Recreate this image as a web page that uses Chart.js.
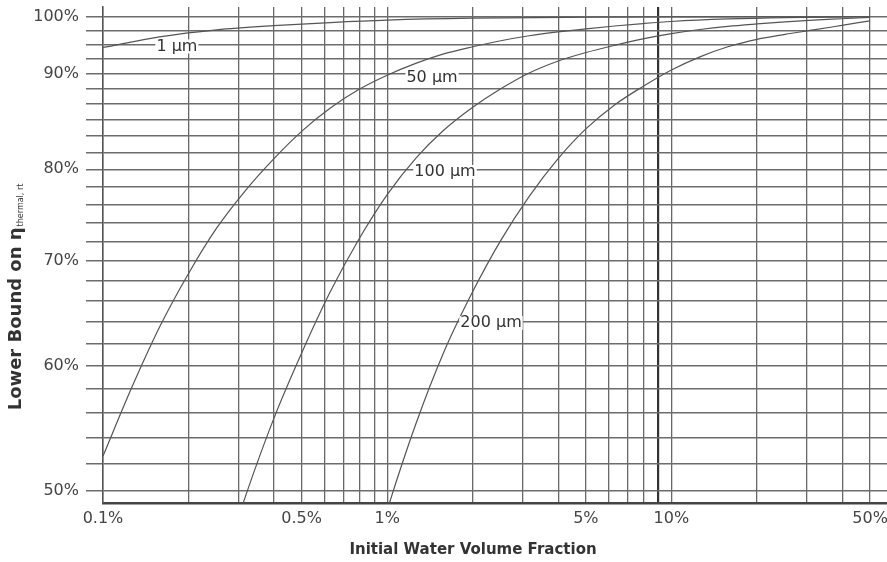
<!DOCTYPE html>
<html>
<head>
<meta charset="utf-8">
<script src="https://cdn.jsdelivr.net/npm/chart.js@4.4.1/dist/chart.umd.min.js"></script>
<style>
  html, body { margin: 0; padding: 0; background: #fff; overflow: hidden; }
  #wrap { width: 887px; height: 562px; position: relative; }
</style>
</head>
<body>
<div id="wrap"><canvas id="chart"></canvas></div>
<script>
// Water volume fraction (x, as a fraction) and lower bound on efficiency (y)
const fractions1 = [0.001, 0.00158, 0.00251, 0.00398, 0.00631, 0.01, 0.02, 0.0501, 0.1, 0.5];
const eta1 = [0.956, 0.971, 0.981, 0.987, 0.9915, 0.995, 0.9978, 0.9992, 0.9997, 1.0];

const fractions50 = [0.001, 0.00126, 0.00158, 0.002, 0.00251, 0.00316, 0.00398, 0.00501, 0.00631, 0.00794,
  0.01, 0.0126, 0.0158, 0.02, 0.0251, 0.0316, 0.0398, 0.0501, 0.0631, 0.0794, 0.1, 0.158, 0.251, 0.5];
const eta50 = [0.526, 0.581, 0.635, 0.687, 0.734, 0.775, 0.812, 0.846, 0.875, 0.899,
  0.918, 0.934, 0.947, 0.957, 0.9655, 0.9725, 0.978, 0.9825, 0.9865, 0.99, 0.993, 0.9967, 0.9988, 1.0];

const fractions100 = [0.003, 0.00316, 0.00398, 0.00501, 0.00631, 0.00794, 0.01, 0.0126, 0.0158, 0.02, 0.0251,
  0.0316, 0.0398, 0.0501, 0.0631, 0.0794, 0.1, 0.126, 0.158, 0.2, 0.251, 0.316, 0.398, 0.5];
const eta100 = [0.481, 0.495, 0.555, 0.612, 0.669, 0.722, 0.771, 0.813, 0.847, 0.876, 0.9,
  0.921, 0.937, 0.949, 0.959, 0.968, 0.9755, 0.9815, 0.986, 0.9895, 0.9925, 0.995, 0.997, 0.999];

const fractions200 = [0.0098, 0.01, 0.0126, 0.0158, 0.02, 0.0251, 0.0316, 0.0398, 0.0501, 0.0631,
  0.0794, 0.1, 0.126, 0.158, 0.2, 0.251, 0.316, 0.398, 0.5];
const eta200 = [0.48, 0.486, 0.551, 0.612, 0.669, 0.721, 0.769, 0.812, 0.849, 0.879,
  0.903, 0.925, 0.943, 0.957, 0.9675, 0.9745, 0.9808, 0.9874, 0.994];

// Curve labels, placed in data coordinates
const curveLabels = ["1 µm", "50 µm", "100 µm", "200 µm"];
const labelFractions = [0.00182, 0.01438, 0.01597, 0.02319];
const labelEtas = [0.9574, 0.9143, 0.7969, 0.639];

// Grid lines and tick labels
const xGridValues = [0.001, 0.002, 0.003, 0.004, 0.005, 0.006, 0.007, 0.008, 0.009,
  0.01, 0.02, 0.03, 0.04, 0.05, 0.06, 0.07, 0.08, 0.09, 0.1, 0.2, 0.3, 0.4, 0.5];
const xLabelValues = [0.001, 0.005, 0.01, 0.05, 0.1, 0.5];
const xLabelTexts = ["0.1%", "0.5%", "1%", "5%", "10%", "50%"];

const yGridValues = [0.50, 0.52, 0.54, 0.56, 0.58, 0.60, 0.62, 0.64, 0.66, 0.68, 0.70,
  0.72, 0.74, 0.76, 0.78, 0.80, 0.82, 0.84, 0.86, 0.88, 0.90, 0.92, 0.94, 0.96, 0.98, 1.00];
const yLabelValues = [1.00, 0.92, 0.80, 0.70, 0.60, 0.50];
const yLabelTexts = ["100%", "90%", "80%", "70%", "60%", "50%"];

const xTitle = "Initial Water Volume Fraction";
const yTitleMain = "Lower Bound on η";
const yTitleSub = "thermal, rt";

const near = (a, b) => Math.abs(a - b) < 1e-9;

function lookupLabel(value, values, texts) {
  const idx = values.findIndex(v => near(v, value));
  return idx >= 0 ? texts[idx] : "";
}

function toPoints(xs, ys) {
  return xs.map((x, i) => ({ x: x, y: ys[i] }));
}

function curve(xs, ys) {
  return {
    data: toPoints(xs, ys),
    borderColor: "#555",
    borderWidth: 1.2,
    pointRadius: 0,
    fill: false,
    cubicInterpolationMode: "monotone"
  };
}

// Draw curve labels with white boxes, plus both axis titles
const labelPlugin = {
  id: "labelPlugin",
  afterDatasetsDraw(chart) {
    const { ctx } = chart;
    const xs = chart.scales.x;
    const ys = chart.scales.y;
    ctx.save();
    ctx.font = '16px "DejaVu Sans"';
    ctx.textAlign = "center";
    ctx.textBaseline = "middle";
    curveLabels.forEach((text, i) => {
      const px = xs.getPixelForValue(labelFractions[i]);
      const py = ys.getPixelForValue(labelEtas[i]);
      const w = ctx.measureText(text).width;
      ctx.fillStyle = "#fff";
      ctx.fillRect(px - w / 2 - 1, py - 7, w + 2, 14);
      ctx.fillStyle = "#333";
      ctx.fillText(text, px, py);
    });
    ctx.restore();
  },
  afterDraw(chart) {
    const { ctx } = chart;
    ctx.save();
    ctx.fillStyle = "#333";
    ctx.textBaseline = "middle";

    // x title
    ctx.font = 'bold 15px "DejaVu Sans"';
    ctx.textAlign = "center";
    ctx.fillText(xTitle, 473, 550);

    // y title, rotated, with subscript
    ctx.translate(16, 297);
    ctx.rotate(-Math.PI / 2);
    ctx.font = 'bold 18px "DejaVu Sans"';
    const w1 = ctx.measureText(yTitleMain).width;
    ctx.font = '8px "DejaVu Sans"';
    const w2 = ctx.measureText(yTitleSub).width;
    const start = -(w1 + w2 + 1) / 2;
    ctx.textAlign = "left";
    ctx.font = 'bold 18px "DejaVu Sans"';
    ctx.fillText(yTitleMain, start, 0);
    ctx.font = '8px "DejaVu Sans"';
    ctx.fillText(yTitleSub, start + w1 + 1, 5);
    ctx.restore();
  }
};

const chartArea = document.querySelector("#chart").getContext("2d");

new Chart(chartArea, {
  type: "line",
  data: {
    datasets: [
      curve(fractions1, eta1),
      curve(fractions50, eta50),
      curve(fractions100, eta100),
      curve(fractions200, eta200)
    ]
  },
  options: {
    responsive: true,
    maintainAspectRatio: false,
    animation: false,
    devicePixelRatio: 1,
    layout: { padding: { top: 7, left: 0, right: 0, bottom: 0 } },
    plugins: {
      legend: { display: false },
      tooltip: { enabled: false }
    },
    scales: {
      x: {
        type: "logarithmic",
        position: "bottom",
        bounds: "data",
        min: 0.001,
        max: 0.5736,
        afterBuildTicks: axis => {
          axis.ticks = xGridValues.map(v => ({ value: v }));
        },
        afterFit: axis => {
          axis.height = 59;
          axis.paddingLeft = 0;
          axis.paddingRight = 0;
        },
        grid: {
          drawTicks: false,
          color: c => (c.tick && near(c.tick.value, 0.09)) ? "#333" : "#686868",
          lineWidth: c => (c.tick && near(c.tick.value, 0.09)) ? 2.2 : 1.3
        },
        border: { display: true, color: "#444", width: 2.5 },
        ticks: {
          autoSkip: false,
          maxRotation: 0,
          minRotation: 0,
          padding: 6,
          color: "#444",
          font: { family: "DejaVu Sans", size: 16 },
          callback: value => lookupLabel(value, xLabelValues, xLabelTexts)
        }
      },
      y: {
        type: "logarithmic",
        bounds: "data",
        min: 0.4911,
        max: 1.0143,
        afterBuildTicks: axis => {
          axis.ticks = yGridValues.map(v => ({ value: v }));
        },
        afterFit: axis => {
          axis.width = 103;
          axis.paddingTop = 0;
          axis.paddingBottom = 0;
        },
        grid: {
          drawTicks: true,
          tickLength: 17,
          color: "#6c6c6c",
          lineWidth: 1.5
        },
        border: { display: true, color: "#555", width: 1.5 },
        ticks: {
          autoSkip: false,
          padding: 7,
          color: "#444",
          font: { family: "DejaVu Sans", size: 16 },
          callback: value => lookupLabel(value, yLabelValues, yLabelTexts)
        }
      }
    }
  },
  plugins: [labelPlugin]
});
</script>
</body>
</html>
